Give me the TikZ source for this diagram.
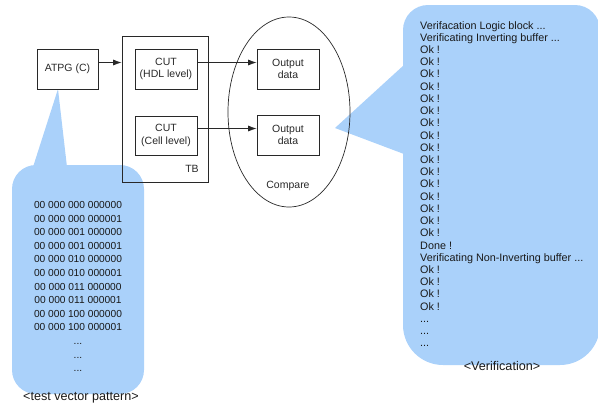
\documentclass[tikz,border=0pt]{standalone}
\usepackage{fontspec}
\setmainfont{Liberation Sans}
\usetikzlibrary{shapes.geometric,arrows.meta}
\definecolor{bubbleblue}{RGB}{170,209,250}
\definecolor{inkgray}{RGB}{40,40,40}
\begin{document}
\begin{tikzpicture}[x=1pt, y=-1pt,
  box/.style={shape=rectangle, draw=inkgray, line width=0.7pt, minimum width=62pt, minimum height=40pt, align=center, text=inkgray, font=\fontsize{10.5}{12.3}\selectfont},
  lbl/.style={text=inkgray, font=\fontsize{10.5}{12.3}\selectfont},
  title/.style={text=black!90, font=\fontsize{12.6}{14}\selectfont},
  bubble/.style={fill=bubbleblue, draw=none},
  msg/.style={text=black!90, inner sep=0pt, font=\fontsize{10.8}{12.22}\selectfont},
  arrow/.style={-{Latex[length=8.5pt,width=6pt]}, line width=0.8pt, draw=inkgray}]
\useasboundingbox (0,0) rectangle (598,408);
% callouts
\fill[bubble, rounded corners=24pt] (12,165) rectangle (144,394);
\fill[bubble] (58,89) -- (67,167) -- (33,167) -- cycle;
\fill[bubble, rounded corners=40pt] (403,5) rectangle (600,365);
\fill[bubble, rounded corners=25pt] (403,5) rectangle (600,200);
\fill[bubble] (335,128) -- (404,65) -- (404,154) -- cycle;
% blocks
\node[box, minimum width=61pt] (atpg) at (67.5,69) {ATPG (C)};
\node[box, minimum width=86pt, minimum height=146pt] (tb) at (165,109) {};
\node[lbl] (tblabel) at (192,169) {TB};
\node[box] (cuthdl) at (166,69) {CUT\\(HDL level)};
\node[box, minimum height=39pt] (cutcell) at (166,135.5) {CUT\\(Cell level)};
\node[box] (out1) at (288,69) {Output\\data};
\node[box] (out2) at (288,135) {Output\\data};
\node[shape=ellipse, draw=inkgray, line width=0.7pt, minimum width=122pt, minimum height=190pt] (cmp) at (289,112) {};
\node[lbl] (cmplabel) at (288,186) {Compare};
% connectors
\coordinate (atpgout) at ([yshift=6.5pt]atpg.east);
\coordinate (hdlout) at ([yshift=6.5pt]cuthdl.east);
\coordinate (cellout) at ([yshift=7pt]cutcell.east);
\draw[arrow] (atpgout) -- (atpgout -| tb.west);
\draw[arrow] (hdlout) -- (hdlout -| out1.west);
\draw[arrow] (cellout) -- (cellout -| out2.west);
% texts in callouts
\node[msg, align=center, font=\fontsize{10.2}{13.6}\selectfont] (vectors) at (78,286.5) {00 000 000 000000\\00 000 000 000001\\00 000 001 000000\\00 000 001 000001\\00 000 010 000000\\00 000 010 000001\\00 000 011 000000\\00 000 011 000001\\00 000 100 000000\\00 000 100 000001\\...\\...\\...};
\node[title] (vectitle) at (81,398) {<test vector pattern>};
\node[msg, align=left, anchor=west] (verif) at (420,184) {Verifacation Logic block ...\\Verificating Inverting buffer ...\\Ok !\\Ok !\\Ok !\\Ok !\\Ok !\\Ok !\\Ok !\\Ok !\\Ok !\\Ok !\\Ok !\\Ok !\\Ok !\\Ok !\\Ok !\\Ok !\\Done !\\Verificating Non-Inverting buffer ...\\Ok !\\Ok !\\Ok !\\Ok !\\...\\...\\...};
\node[title] (veriftitle) at (502,366) {<Verification>};
\end{tikzpicture}
\end{document}
